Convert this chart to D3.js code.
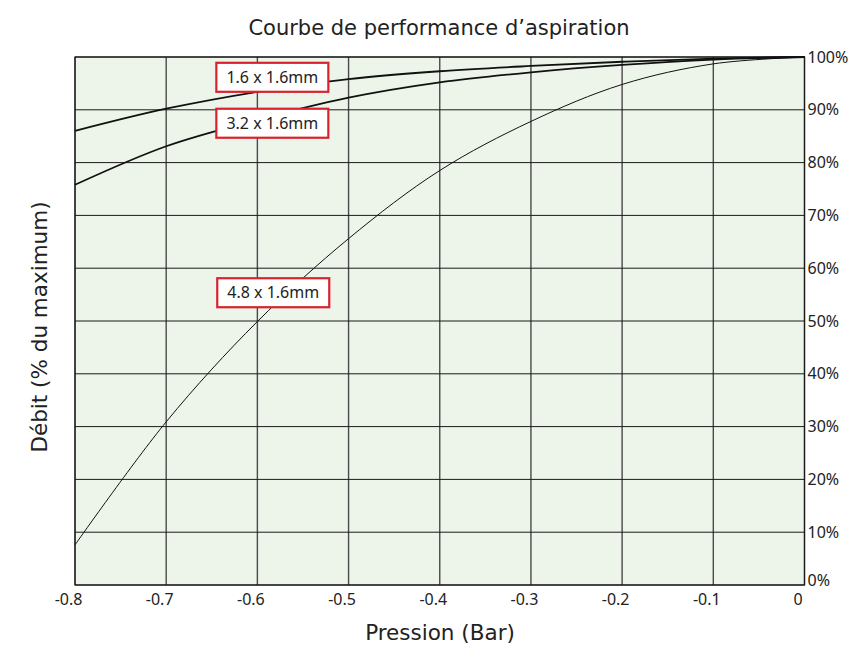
<!DOCTYPE html>
<html lang="fr">
<head>
<meta charset="utf-8">
<script src="https://d3js.org/d3.v7.min.js"></script>
<style type="text/css">
body { margin: 0; background: #fff; }
.tick text { font: 16px "Noto Sans", sans-serif; fill: #222; }
.title, .axis-title { font-family: "DejaVu Sans", Verdana, sans-serif; fill: #222; }
.tag text { font: 16px "Noto Sans", sans-serif; fill: #222; }
</style>
</head>
<body>
<div id="chart"></div>
<script type="text/javascript">

// data
var pressure = [-0.8, -0.7, -0.6, -0.5, -0.4, -0.3, -0.2, -0.1, 0];
var flow16 = [86.0, 90.2, 93.4, 95.8, 97.3, 98.3, 99.1, 99.7, 100];
var flow32 = [75.8, 83.1, 88.1, 92.3, 95.2, 97.1, 98.5, 99.5, 100];
var flow48 = [7.6, 30.9, 49.9, 65.6, 78.5, 87.8, 94.8, 98.7, 100];
var seriesNames = ["1.6 x 1.6mm", "3.2 x 1.6mm", "4.8 x 1.6mm"];
var xTicks = [-0.8, -0.7, -0.6, -0.5, -0.4, -0.3, -0.2, -0.1, 0];
var yTicks = [0, 10, 20, 30, 40, 50, 60, 70, 80, 90, 100];

var width = 854, height = 646;
var margin = {top: 57, right: 49.5, bottom: 61, left: 75};

var svg = d3.select("#chart")
  .append("svg")
  .attr("width", width)
  .attr("height", height);

var x = d3.scaleLinear()
  .domain([-0.8, 0])
  .range([margin.left, width - margin.right]);

var y = d3.scaleLinear()
  .domain([0, 100])
  .range([height - margin.bottom, margin.top]);

// plot background
svg.append("rect")
  .attr("x", x(-0.8))
  .attr("y", y(100))
  .attr("width", x(0) - x(-0.8))
  .attr("height", y(0) - y(100))
  .style("fill", "#edf4ea");

// grid
svg.append("g").selectAll("line")
  .data(xTicks)
  .enter().append("line")
  .attr("x1", function(d) { return x(d); })
  .attr("x2", function(d) { return x(d); })
  .attr("y1", y(0))
  .attr("y2", y(100))
  .style("stroke", "#4a4a4a")
  .style("stroke-width", 1.4);

svg.append("g").selectAll("line")
  .data(yTicks)
  .enter().append("line")
  .attr("x1", x(-0.8))
  .attr("x2", x(0))
  .attr("y1", function(d) { return y(d); })
  .attr("y2", function(d) { return y(d); })
  .style("stroke", "#1a1a1a")
  .style("stroke-width", 1);

// frame
svg.append("rect")
  .attr("x", x(-0.8))
  .attr("y", y(100))
  .attr("width", x(0) - x(-0.8))
  .attr("height", y(0) - y(100))
  .style("fill", "none")
  .style("stroke", "#1a1a1a")
  .style("stroke-width", 1.2);

// axes
var xAxis = d3.axisBottom(x)
  .tickValues(xTicks)
  .tickSize(0)
  .tickPadding(9)
  .tickFormat(function(d) { return d === 0 ? "0" : d.toFixed(1); });

var gx = svg.append("g")
  .attr("transform", "translate(0," + y(0) + ")")
  .call(xAxis);
gx.select(".domain").remove();
gx.selectAll(".tick text").attr("dx", -7);

var yAxis = d3.axisRight(y)
  .tickValues(yTicks)
  .tickSize(0)
  .tickPadding(3)
  .tickFormat(function(d) { return d + "%"; });

var gy = svg.append("g")
  .attr("transform", "translate(" + x(0) + ",0)")
  .call(yAxis);
gy.select(".domain").remove();
gy.selectAll(".tick text").attr("dy", function(d) { return d === 0 ? "-0.0em" : "0.32em"; });

// curves
var line = d3.line()
  .x(function(d) { return x(d[0]); })
  .y(function(d) { return y(d[1]); })
  .curve(d3.curveCatmullRom.alpha(0.5));

var curves = [
  {values: flow16, w: 1.8},
  {values: flow32, w: 1.8},
  {values: flow48, w: 1}
];

svg.append("g").selectAll("path")
  .data(curves)
  .enter().append("path")
  .attr("d", function(c) { return line(d3.zip(pressure, c.values)); })
  .style("fill", "none")
  .style("stroke", "#111")
  .style("stroke-width", function(c) { return c.w; });

// series tags (top-left corner in data units)
var tagPos = [[-0.645, 98.9], [-0.645, 90.2], [-0.644, 58.1]];

var tags = svg.append("g").attr("class", "tag").selectAll("g")
  .data(seriesNames)
  .enter().append("g")
  .attr("transform", function(d, i) {
    return "translate(" + x(tagPos[i][0]) + "," + y(tagPos[i][1]) + ")";
  });

tags.append("rect")
  .attr("width", 112)
  .attr("height", 29)
  .style("fill", "#fff")
  .style("stroke", "#d8232f")
  .style("stroke-width", 2.2);

tags.append("text")
  .attr("x", 56)
  .attr("y", 14.5)
  .attr("dy", "0.35em")
  .attr("text-anchor", "middle")
  .text(function(d) { return d; });

// titles
svg.append("text")
  .attr("class", "title")
  .attr("x", 439)
  .attr("y", 35)
  .attr("text-anchor", "middle")
  .style("font-size", "21px")
  .text("Courbe de performance d\u2019aspiration");

svg.append("text")
  .attr("class", "axis-title")
  .attr("x", 440)
  .attr("y", 640)
  .attr("text-anchor", "middle")
  .style("font-size", "21.5px")
  .text("Pression (Bar)");

svg.append("text")
  .attr("class", "axis-title")
  .attr("transform", "translate(47,327) rotate(-90)")
  .attr("text-anchor", "middle")
  .style("font-size", "21.5px")
  .text("Débit (% du maximum)");

</script>
</body>
</html>
